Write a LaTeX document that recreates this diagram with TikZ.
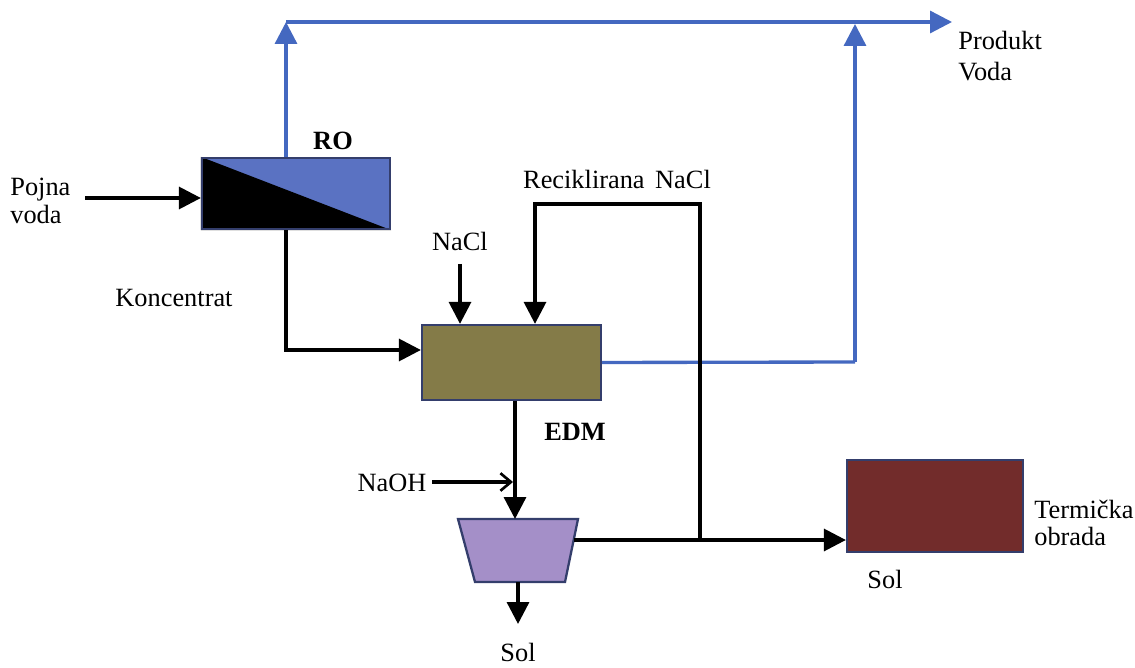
\documentclass[tikz,border=0pt]{standalone}
\usepackage{fontspec}
\setmainfont{Liberation Serif}
\usetikzlibrary{arrows.meta,calc}
\definecolor{flowblue}{HTML}{4468C0}
\definecolor{rofill}{HTML}{5A72C2}
\definecolor{edmfill}{HTML}{847B48}
\definecolor{trapfill}{HTML}{A48FC8}
\definecolor{termfill}{HTML}{722C2B}
\definecolor{boxborder}{HTML}{343E6C}
\tikzset{
  unitbox/.style={draw=boxborder, line width=1.3pt, rectangle, inner sep=0pt},
  flow/.style={line width=1.9pt, black},
  blueflow/.style={line width=1.9pt, flowblue},
  tri/.style={-{Triangle[length=12.5pt,width=12.5pt]}},
  opentip/.style={-{Straight Barb[length=6pt,width=10pt,line width=1.5pt]}},
  lbl/.style={font=\fontsize{15}{17}\selectfont, inner sep=0pt},
  blbl/.style={font=\fontsize{15}{17}\selectfont\bfseries, inner sep=0pt}
}
\begin{document}
\begin{tikzpicture}[x=0.02cm,y=-0.02cm]
\useasboundingbox (0,0) rectangle (1135,668);
% units
\node[unitbox, fill=rofill, minimum width=3.76cm, minimum height=1.42cm] (ro) at (296,193.5) {};
\fill[black] (ro.north west) -- (ro.south east) -- (ro.south west) -- cycle;
\node[unitbox, minimum width=3.76cm, minimum height=1.42cm] at (296,193.5) {};
\node[unitbox, fill=edmfill, minimum width=3.58cm, minimum height=1.5cm] (edm) at (511.5,362.5) {};
\node[unitbox, fill=termfill, minimum width=3.52cm, minimum height=1.84cm] (term) at (935,506) {};
% trapezoid
\coordinate (tl) at (458,519);
\coordinate (trr) at (578,519);
\coordinate (br) at (565,582);
\coordinate (bl) at (475,582);
\draw[draw=boxborder, line width=1.3pt, fill=trapfill] (tl) -- (trr) -- (br) -- (bl) -- cycle;
\coordinate (traptop) at (515,519);
\coordinate (trapbot) at (518,582);
\coordinate (trapright) at (573.7,540);
% free ends
\coordinate (pin) at (85,198);
\coordinate (topleft) at (286,22);
\coordinate (prod) at (952,22);
\coordinate (topright) at (855,22);
\coordinate (edmout) at (855,362);
\coordinate (konc) at (286,350);
\coordinate (naclin) at (460,264);
\coordinate (rec1) at (700,540);
\coordinate (rec2) at (700,204);
\coordinate (rec3) at (535,204);
\coordinate (naohin) at (432,482);
\coordinate (naohend) at (513,482);
\coordinate (solout) at (518,624);
% blue flows
\draw[blueflow, tri] (ro.north -| topleft) -- (topleft);
\draw[blueflow, tri] (topleft) -- (prod);
\draw[blueflow] (edm.east) -- (edmout);
\draw[blueflow, tri] (edmout) -- ($(topright)+(0,2)$);
% black flows
\draw[flow, tri] (pin) -- (pin -| ro.west);
\draw[flow, tri] (ro.south -| konc) -- (konc) -- (konc -| edm.west);
\draw[flow, tri] (naclin) -- (naclin |- edm.north);
\draw[flow, tri] (rec1) -- (rec2) -- (rec3) -- (rec3 |- edm.north);
\draw[flow, tri] (edm.south -| traptop) -- (traptop);
\draw[flow, opentip] (naohin) -- (naohend);
\draw[flow, tri] (trapright) -- (trapright -| term.west);
\draw[flow, tri] (trapbot) -- (solout);
% labels
\node[blbl] (lro) at (333,141) {RO};
\node[blbl] (ledm) at (575,432) {EDM};
\node[lbl, align=left, anchor=west, font=\fontsize{15}{18}\selectfont] (lprod) at (958,56) {Produkt\\Voda};
\node[lbl, align=left, anchor=west, font=\fontsize{15}{15.5}\selectfont] (lpojna) at (10,201) {Pojna\\voda};
\node[lbl] (lkonc) at (174,298) {Koncentrat};
\node[lbl] (lnacl) at (460,241) {NaCl};
\node[lbl] (lrec) at (617,179) {Reciklirana\hspace{0.4em}NaCl};
\node[lbl] (lnaoh) at (392,483) {NaOH};
\node[lbl, align=left, anchor=west, font=\fontsize{15}{15.5}\selectfont] (lterm) at (1034,523) {Termička\\obrada};
\node[lbl] (lsol1) at (885,579) {Sol};
\node[lbl] (lsol2) at (518,652) {Sol};
\end{tikzpicture}
\end{document}
